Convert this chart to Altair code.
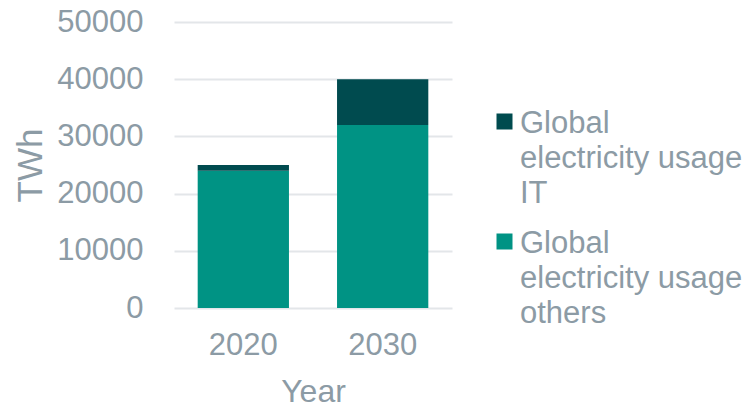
import altair as alt
import pandas as pd

years = ["2020", "2030", "2020", "2030"]
series = ["Global electricity usage others", "Global electricity usage others",
          "Global electricity usage IT", "Global electricity usage IT"]
values = [24000, 32000, 1000, 8000]
stack_order = [0, 0, 1, 1]

legend_domain = ["Global electricity usage IT", "Global electricity usage others"]
legend_colors = ["#004B4F", "#009384"]

df = pd.DataFrame({"Year": years, "Series": series, "TWh": values, "ord": stack_order})

txt = "#8C9BA5"
font = "Liberation Sans"
shift = 13

chart = alt.Chart(df).mark_bar().encode(
    x=alt.X("Year:N", title="Year",
            scale=alt.Scale(paddingInner=0.345, paddingOuter=0.17),
            axis=alt.Axis(labelAngle=0, labelFontSize=31, titleFontSize=32,
                          labelPadding=22 + shift, titlePadding=16, domain=False, ticks=False,
                          labelColor=txt, titleColor=txt, labelFont=font, titleFont=font,
                          titleFontWeight="normal", grid=False)),
    y=alt.Y("TWh:Q", title="TWh",
            scale=alt.Scale(domain=[0, 50000]),
            axis=alt.Axis(values=[0, 10000, 20000, 30000, 40000, 50000], format="d",
                          labelFontSize=31, titleFontSize=35, labelPadding=31, titlePadding=8,
                          labelOffset=shift,
                          domain=False, ticks=False, gridColor="#E3E6E9", gridWidth=2,
                          labelColor=txt, titleColor=txt, labelFont=font, titleFont=font,
                          titleFontWeight="normal")),
    color=alt.Color("Series:N",
                    scale=alt.Scale(domain=legend_domain, range=legend_colors),
                    legend=alt.Legend(title=None, orient="none", legendX=315, legendY=84,
                                      symbolType="square", symbolSize=256,
                                      symbolStrokeWidth=0, labelFontSize=31,
                                      labelColor=txt, labelFont=font, labelLimit=400,
                                      labelExpr="split(replace(replace(datum.label, 'Global ', 'Global|'), 'usage ', 'usage|'), '|')",
                                      rowPadding=17, labelBaseline="top",
                                      labelOffset=0)),
    order=alt.Order("ord:Q"),
).properties(
    width=278, height=286,
    autosize=alt.AutoSizeParams(type="none"),
    padding={"left": 166, "top": 14, "right": 294, "bottom": 100},
)

chart = chart.configure(style={"guide-label": {"lineHeight": 35, "dy": -shift}}).configure_view(stroke=None)

chart.save("out.html", embed_options={"renderer": "svg", "actions": False})
